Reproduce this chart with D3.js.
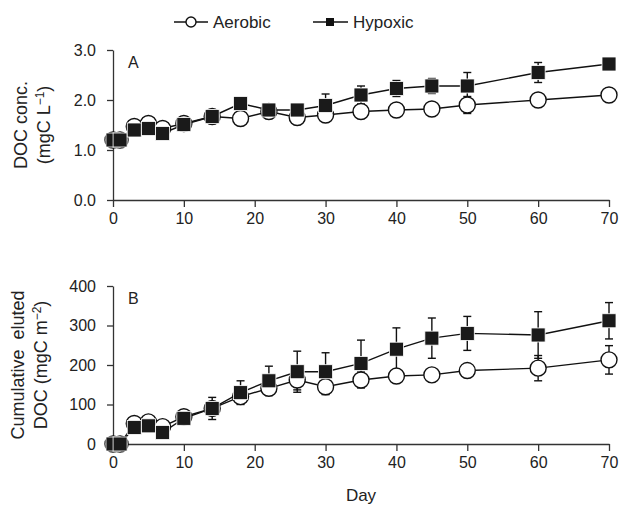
<!doctype html>
<html lang="en">
<head>
<meta charset="UTF-8" />
<script src="https://d3js.org/d3.v7.min.js"></script>
<style>
  body { margin: 0; background: #fff; }
  text { font-family: "Liberation Sans", Arial, sans-serif; fill: #222; }
</style>
</head>
<body>
<div id="chart"></div>
<script>
// Sampling days
const days = [0, 1, 3, 5, 7, 10, 14, 18, 22, 26, 30, 35, 40, 45, 50, 60, 70]

// Panel A: DOC concentration (mgC L-1)
const aerobicA = [1.2, 1.2, 1.47, 1.53, 1.43, 1.53, 1.67, 1.63, 1.77, 1.65, 1.7, 1.77, 1.8, 1.82, 1.9, 2.0, 2.1]
const aerobicAse = [0.03, 0.03, 0.08, 0.08, 0.06, 0.05, 0.04, 0.1, 0.05, 0.06, 0.05, 0.05, 0.05, 0.05, 0.17, 0.05, 0.13]
const hypoxicA = [1.2, 1.2, 1.4, 1.43, 1.33, 1.51, 1.67, 1.93, 1.8, 1.8, 1.89, 2.1, 2.23, 2.28, 2.28, 2.55, 2.72]
const hypoxicAse = [0.03, 0.03, 0.05, 0.05, 0.05, 0.05, 0.05, 0.05, 0.08, 0.08, 0.23, 0.18, 0.16, 0.15, 0.27, 0.2, 0.05]

// Panel B: cumulative eluted DOC (mgC m-2)
const aerobicB = [0, 0, 52, 56, 44, 69, 90, 120, 141, 162, 145, 162, 172, 175, 186, 192, 213]
const aerobicBse = [0, 0, 6, 6, 6, 8, 12, 14, 12, 25, 20, 20, 12, 12, 12, 32, 36]
const hypoxicB = [0, 0, 42, 46, 29, 65, 90, 130, 160, 183, 183, 204, 240, 268, 280, 276, 312]
const hypoxicBse = [0, 0, 6, 6, 6, 12, 28, 30, 37, 52, 48, 59, 54, 51, 43, 59, 46]

const xTicks = [0, 10, 20, 30, 40, 50, 60, 70]
const yTicksA = [0, 1, 2, 3]
const yTicksB = [0, 100, 200, 300, 400]

const W = 631, H = 509
const svg = d3.select("#chart").append("svg").attr("width", W).attr("height", H)

const x = d3.scaleLinear().domain([0, 70]).range([113, 609])

function panel(y, ticks, fmt, aer, aerSe, hyp, hypSe, letter, labels, labelX) {
    const top = y.range()[1], bottom = y.range()[0]

    // axes
    const gx = svg.append("g").attr("transform", `translate(0,${bottom})`)
        .call(d3.axisBottom(x).tickValues(xTicks).tickSize(7).tickSizeOuter(0).tickPadding(6))
    const gy = svg.append("g").attr("transform", `translate(113,0)`)
        .call(d3.axisLeft(y).tickValues(ticks).tickFormat(fmt).tickSize(6).tickSizeOuter(0).tickPadding(11))
    ;[gx, gy].forEach(g => {
        g.select(".domain").attr("stroke", "#333").attr("stroke-width", 1.3)
        g.selectAll(".tick line").attr("stroke", "#333").attr("stroke-width", 1.3)
        g.selectAll(".tick text").attr("font-size", 16).attr("fill", "#222")
            .attr("font-family", "Liberation Sans, Arial, sans-serif")
    })

    svg.append("text").attr("x", 128).attr("y", top + 18).attr("font-size", 16).text(letter)

    // y label, two lines
    labels.forEach((l, i) => {
        svg.append("text")
            .attr("transform", `translate(${labelX[i]},${(top + bottom) / 2}) rotate(-90)`)
            .attr("text-anchor", "middle")
            .attr("font-size", 18)
            .html(l)
    })

    const line = d3.line().x((d, i) => x(days[i])).y(d => y(d))

    function errBars(vals, se) {
        const g = svg.append("g").attr("stroke", "#111").attr("stroke-width", 1.4)
        vals.forEach((v, i) => {
            if (!se[i]) return
            const cx = x(days[i])
            g.append("line").attr("x1", cx).attr("x2", cx).attr("y1", y(v - se[i])).attr("y2", y(v + se[i]))
            ;[v - se[i], v + se[i]].forEach(e => {
                g.append("line").attr("x1", cx - 4).attr("x2", cx + 4).attr("y1", y(e)).attr("y2", y(e))
            })
        })
    }

    errBars(aer, aerSe)
    errBars(hyp, hypSe)

    svg.append("path").datum(aer).attr("d", line)
        .attr("fill", "none").attr("stroke", "#111").attr("stroke-width", 1.4)
    svg.append("g").selectAll("circle").data(aer).join("circle")
        .attr("cx", (d, i) => x(days[i])).attr("cy", d => y(d)).attr("r", 8)
        .attr("fill", "#fff").attr("stroke", "#111").attr("stroke-width", 1.4)

    svg.append("path").datum(hyp).attr("d", line)
        .attr("fill", "none").attr("stroke", "#111").attr("stroke-width", 1.4)
    svg.append("g").selectAll("rect").data(hyp).join("rect")
        .attr("x", (d, i) => x(days[i]) - 7).attr("y", d => y(d) - 7)
        .attr("width", 14).attr("height", 14)
        .attr("fill", "#1a1a1a").attr("stroke", "#fff").attr("stroke-width", 0.8)
}

const yA = d3.scaleLinear().domain([0, 3]).range([200, 50])
panel(yA, yTicksA, d3.format(".1f"), aerobicA, aerobicAse, hypoxicA, hypoxicAse, "A",
    ["DOC conc.", "(mgC L<tspan dy='-6' font-size='12'>−1</tspan><tspan dy='6'>)</tspan>"], [27, 50])

const yB = d3.scaleLinear().domain([0, 400]).range([444, 286])
panel(yB, yTicksB, d3.format("d"), aerobicB, aerobicBse, hypoxicB, hypoxicBse, "B",
    ["Cumulative\u00a0\u00a0eluted", "DOC (mgC m<tspan dy='-6' font-size='12'>−2</tspan><tspan dy='6'>)</tspan>"], [24, 47])

svg.append("text").attr("x", 361).attr("y", 501).attr("text-anchor", "middle")
    .attr("font-size", 17).text("Day")

// legend
const leg = svg.append("g").attr("stroke", "#111").attr("stroke-width", 1.4)
leg.append("line").attr("x1", 174).attr("x2", 208).attr("y1", 22).attr("y2", 22)
leg.append("circle").attr("cx", 191).attr("cy", 22).attr("r", 5).attr("fill", "#fff")
leg.append("line").attr("x1", 313).attr("x2", 348).attr("y1", 22).attr("y2", 22)
leg.append("rect").attr("x", 326).attr("y", 18).attr("width", 8).attr("height", 8).attr("fill", "#111").attr("stroke", "none")
svg.append("text").attr("x", 213).attr("y", 28).attr("font-size", 17).text("Aerobic")
svg.append("text").attr("x", 353).attr("y", 28).attr("font-size", 17).text("Hypoxic")
</script>
</body>
</html>
